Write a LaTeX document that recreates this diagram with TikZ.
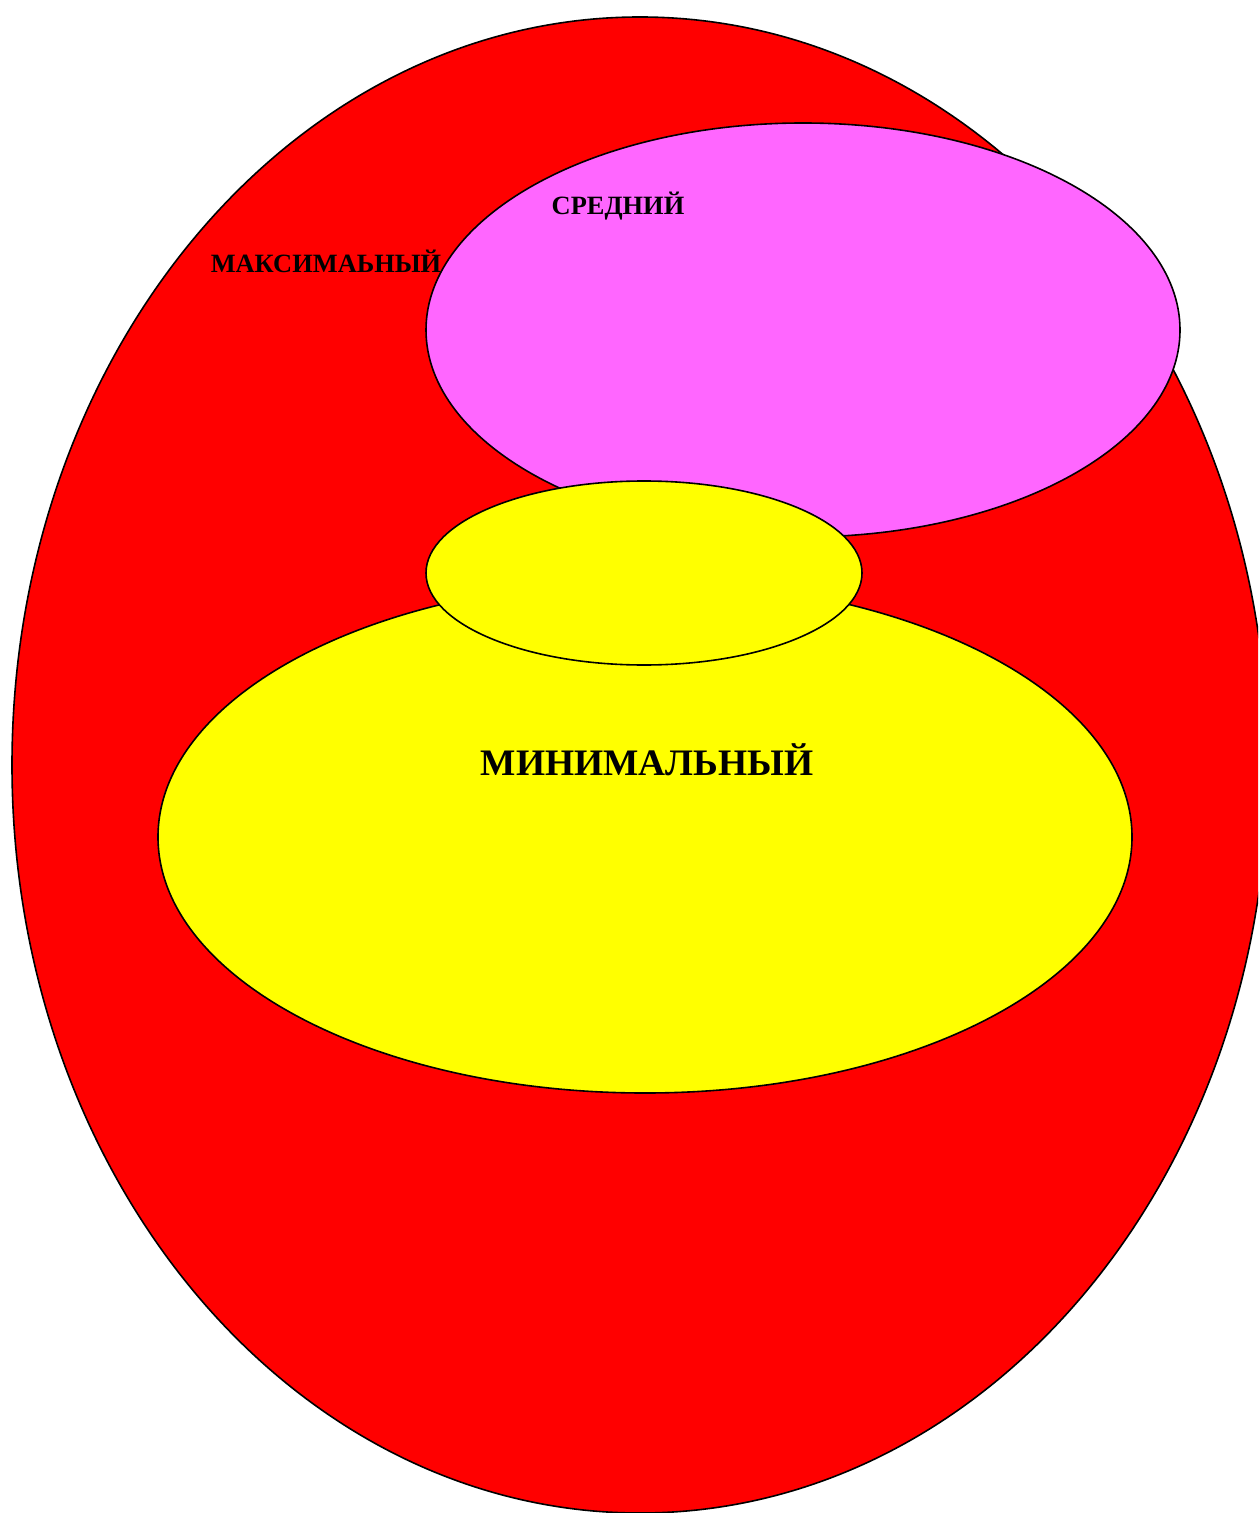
\documentclass[tikz,border=0pt]{standalone}
\usepackage{fontspec}
\setmainfont{Liberation Serif}
\definecolor{pinkfill}{HTML}{FF66FF}
\definecolor{redfill}{HTML}{FF0000}
\definecolor{yellowfill}{HTML}{FFFF00}
\begin{document}
\begin{tikzpicture}[x=0.5pt, y=-0.5pt, line width=0.8pt]

% Page size
\useasboundingbox (0, 0) rectangle (1258, 1513);
\clip (0, 0) rectangle (1258, 1513);

% Outer level
\filldraw[fill=redfill] (640, 765) ellipse [x radius=628, y radius=748];

% Middle level
\filldraw[fill=pinkfill] (803, 330) ellipse [x radius=377, y radius=207];

% Lower level (two parts)
\filldraw[fill=yellowfill] (645, 837) ellipse [x radius=487, y radius=256];
\filldraw[fill=yellowfill] (644, 573) ellipse [x radius=218, y radius=92];

% Labels
\node[font=\bfseries\fontsize{13.2}{15}\selectfont] (maxlabel) at (326, 261) {МАКСИМАЬНЫЙ};
\node[font=\bfseries\fontsize{13.2}{15}\selectfont] (midlabel) at (618, 206) {СРЕДНИЙ};
\node[font=\bfseries\fontsize{18.7}{21}\selectfont] (minlabel) at (647, 760) {МИНИМАЛЬНЫЙ};

\end{tikzpicture}
\end{document}
